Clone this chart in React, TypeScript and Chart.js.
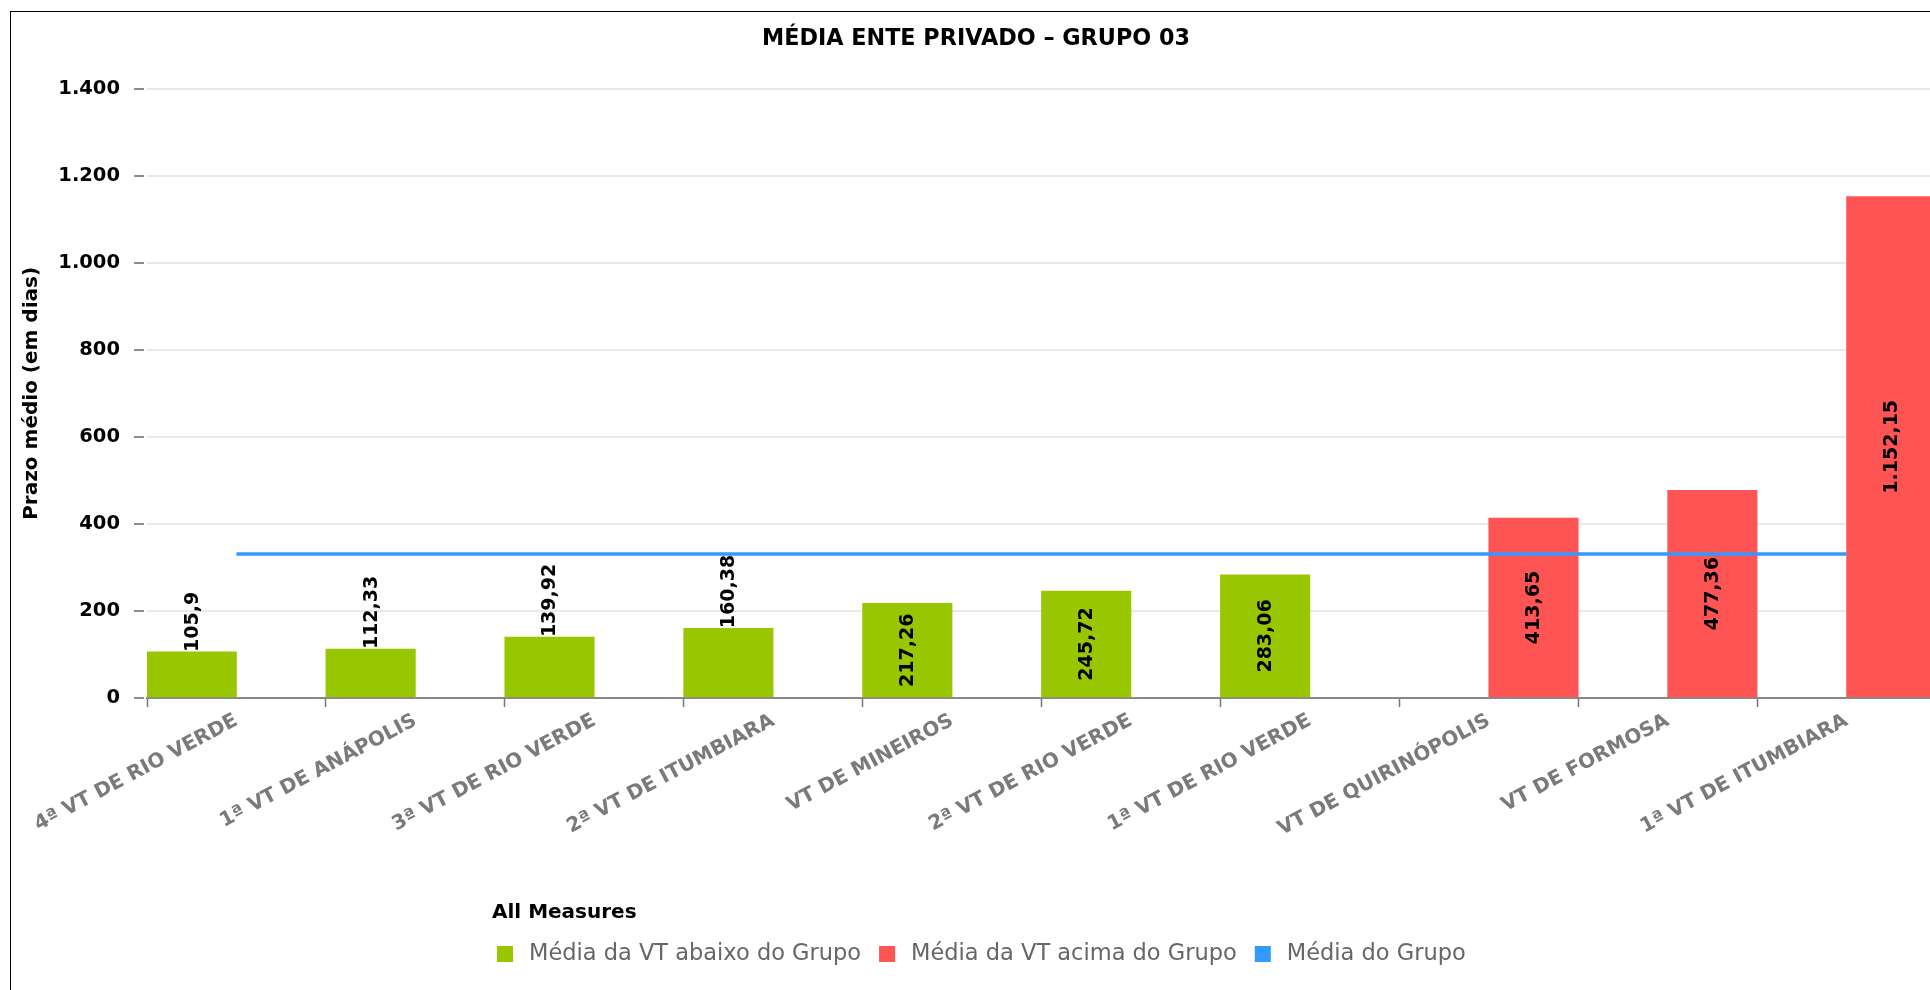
import React, { useEffect, useRef } from "react";
import { Chart, registerables } from "chart.js";

Chart.register(...registerables);

const chartTitle = "MÉDIA ENTE PRIVADO – GRUPO 03";
const yAxisTitle = "Prazo médio (em dias)";
const legendTitle = "All Measures";

const categories = [
  "4ª VT DE RIO VERDE",
  "1ª VT DE ANÁPOLIS",
  "3ª VT DE RIO VERDE",
  "2ª VT DE ITUMBIARA",
  "VT DE MINEIROS",
  "2ª VT DE RIO VERDE",
  "1ª VT DE RIO VERDE",
  "VT DE QUIRINÓPOLIS",
  "VT DE FORMOSA",
  "1ª VT DE ITUMBIARA",
];

const belowGroup = [105.9, 112.33, 139.92, 160.38, 217.26, 245.72, 283.06, null, null, null];
const aboveGroup = [null, null, null, null, null, null, null, 413.65, 477.36, 1152.15];
const groupMean = [330.77, 330.77, 330.77, 330.77, 330.77, 330.77, 330.77, 330.77, 330.77, 330.77];

const seriesLabels = ["Média da VT abaixo do Grupo", "Média da VT acima do Grupo", "Média do Grupo"];
const seriesColors = ["#98c600", "#ff5454", "#3399ff"];

const yMin = 0;
const yMax = 1400;
const yStep = 200;

const FONT = '"DejaVu Sans", sans-serif';

function fmt(v: number): string {
  const parts = String(v).split(".");
  const ig = parts[0].replace(/\B(?=(\d{3})+(?!\d))/g, ".");
  return parts[1] ? ig + "," + parts[1] : ig;
}

const valueLabelPlugin = {
  id: "valueLabels",
  afterDatasetsDraw(chart: any) {
    const ctx = chart.ctx;
    ctx.save();
    ctx.font = `bold 19px ${FONT}`;
    ctx.fillStyle = "#000";
    ctx.textBaseline = "middle";
    chart.data.datasets.forEach((ds: any, di: number) => {
      if (ds.type === "line") return;
      const meta = chart.getDatasetMeta(di);
      meta.data.forEach((bar: any, i: number) => {
        const v = ds.data[i];
        if (v == null) return;
        const text = fmt(v);
        const w = ctx.measureText(text).width;
        const p = bar.getProps(["x", "y", "base"], true);
        const h = p.base - p.y;
        ctx.save();
        if (w + 6 <= h) {
          ctx.translate(p.x, (p.y + p.base) / 2);
          ctx.rotate(-Math.PI / 2);
          ctx.textAlign = "center";
        } else {
          ctx.translate(p.x, p.y);
          ctx.rotate(-Math.PI / 2);
          ctx.textAlign = "left";
        }
        ctx.fillText(text, 0, 1);
        ctx.restore();
      });
    });
    ctx.restore();
  },
};

const legendPlugin = {
  id: "customLegend",
  afterDraw(chart: any) {
    const ctx = chart.ctx;
    ctx.save();
    ctx.textBaseline = "middle";
    ctx.textAlign = "left";
    ctx.font = `bold 20px ${FONT}`;
    ctx.fillStyle = "#000";
    ctx.fillText(legendTitle, 481, 901);
    ctx.font = `22.5px ${FONT}`;
    let x = 486;
    const y = 942;
    [1, 2, 0].forEach((di) => {
      const ds = chart.data.datasets[di];
      const color = ds.type === "line" ? ds.borderColor : ds.backgroundColor;
      ctx.fillStyle = color;
      ctx.fillRect(x, y - 8, 16, 16);
      ctx.fillStyle = "#666";
      ctx.fillText(ds.label, x + 32, y);
      x += 32 + ctx.measureText(ds.label).width + 18;
    });
    ctx.restore();
  },
};

export default function App() {
  const canvasRef = useRef<HTMLCanvasElement | null>(null);

  useEffect(() => {
    document.documentElement.style.overflow = "hidden";
    const canvas = canvasRef.current;
    if (!canvas) return;
    const chart = new Chart(canvas, {
      type: "bar",
      data: {
        labels: categories,
        datasets: [
          {
            type: "line",
            label: seriesLabels[2],
            data: groupMean,
            borderColor: seriesColors[2],
            backgroundColor: seriesColors[2],
            borderWidth: 3.5,
            pointRadius: 0,
            order: 0,
          } as any,
          {
            label: seriesLabels[0],
            data: belowGroup,
            backgroundColor: seriesColors[0],
            order: 1,
          },
          {
            label: seriesLabels[1],
            data: aboveGroup,
            backgroundColor: seriesColors[1],
            order: 1,
          },
        ],
      },
      options: {
        responsive: false,
        animation: false,
        devicePixelRatio: 1,
        barPercentage: 1,
        categoryPercentage: 1,
        layout: { padding: { left: 5, right: 5, top: 0, bottom: 0 } },
        plugins: {
          legend: { display: false },
          tooltip: { enabled: false },
          title: {
            display: true,
            text: chartTitle,
            color: "#000",
            font: { family: FONT, size: 22.3, weight: "bold" },
            padding: { top: 14, bottom: 36 },
          },
        },
        scales: {
          x: {
            offset: true,
            grid: {
              offset: true,
              drawOnChartArea: false,
              drawTicks: true,
              tickLength: 9,
              tickColor: "#777",
              tickWidth: 1.5,
            },
            border: { display: true, color: "#888", width: 2 },
            ticks: {
              autoSkip: false,
              minRotation: 28,
              maxRotation: 28,
              padding: 2,
              color: "#7a7a7a",
              font: { family: FONT, size: 20, weight: "bold" },
            },
            afterFit: (scale: any) => {
              scale.height = 294;
            },
          },
          y: {
            min: yMin,
            max: yMax,
            border: { display: false },
            grid: {
              color: "#e9e9e9",
              lineWidth: 2,
              drawTicks: true,
              tickLength: 13,
              tickColor: "#666",
              tickWidth: 1.5,
              tickBorderDash: [10, 100],
            },
            ticks: {
              stepSize: yStep,
              padding: 14,
              color: "#000",
              font: { family: FONT, size: 19.5, weight: "bold" },
              callback: (v: any) => fmt(Number(v)),
            },
            title: {
              display: true,
              text: yAxisTitle,
              color: "#000",
              font: { family: FONT, size: 20, weight: "bold" },
              padding: { top: 4, bottom: 0 },
            },
            afterFit: (scale: any) => {
              scale.width = 131;
            },
          },
        },
      } as any,
      plugins: [valueLabelPlugin, legendPlugin],
    });
    return () => chart.destroy();
  }, []);

  return (
    <div
      style={{
        position: "fixed",
        left: 0,
        top: 0,
        width: 1930,
        height: 990,
        overflow: "hidden",
        background: "#fff",
      }}
    >
      <div
        style={{
          position: "absolute",
          left: 10,
          top: 11,
          width: 1960,
          height: 1000,
          border: "1px solid #000",
          background: "#fff",
        }}
      >
        <canvas ref={canvasRef} width={1930} height={980} style={{ display: "block", width: 1930, height: 980 }} />
      </div>
    </div>
  );
}
